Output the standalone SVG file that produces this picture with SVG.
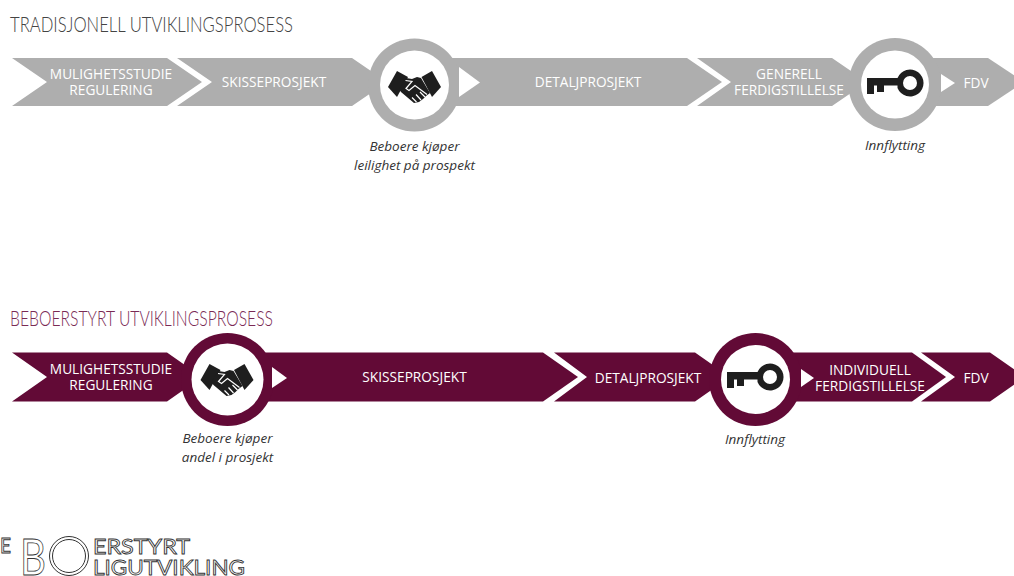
<svg xmlns="http://www.w3.org/2000/svg" width="1014" height="576" viewBox="0 0 1014 576">
<style>
.g{fill:#aeaeae}.p{fill:#620a36}.w{fill:#fff}
.lb{font-family:"Open Sans","Liberation Sans",sans-serif;font-size:13.7px;fill:#fff;text-anchor:middle}
.ca{font-family:"Open Sans","Liberation Sans",sans-serif;font-size:13.5px;font-style:italic;fill:#333;text-anchor:middle}
.ti{font-family:"Lato","Liberation Sans",sans-serif;font-weight:300;font-size:21px}
.lo{font-family:"Lato","Liberation Sans",sans-serif;fill:#fff;stroke:#333;stroke-width:.9}
</style>
<defs>
<g id="hands">
<path fill="#1e1e1e" d="M388 87L397 71L408 77L397 97Z"/>
<path fill="#1e1e1e" d="M441 87L432 71L421.500 77L432 97Z"/>
<path fill="#1e1e1e" d="M406 78L412 79L417 77L421 78L430 93L426 96L423 99L419 102L414 103L401 92L399 89Z"/>
<path fill="none" stroke="#fff" stroke-width="1.200" d="M405.500 80.500L412 81.500L406 88.500L409 90.500L415 85.500L427 94.500M421 100L416 94.500M416.500 102L412 97.500M425 97L420 92"/>
</g>
<g id="key">
<path fill="#1e1e1e" fill-rule="evenodd" d="M867 78H897.500A13.500 13.500 0 1 1 897.500 88V85.500H884V92H877V85.500H874V94H867ZM903 83A7 7 0 1 0 917 83A7 7 0 1 0 903 83Z"/>
</g>
</defs>
<g id="title-traditional"><text class="ti" x="10" y="32" fill="#444" textLength="283" lengthAdjust="spacingAndGlyphs">TRADISJONELL UTVIKLINGSPROSESS</text></g>
<g id="title-resident"><text class="ti" x="10" y="326" fill="#7a2a55" textLength="263" lengthAdjust="spacingAndGlyphs">BEBOERSTYRT UTVIKLINGSPROSESS</text></g>

<g id="connectors"></g>

<g id="t1"><polygon class="g" points="12,58 167,58 202,82 167,106 12,106 47,82"/><text class="lb" x="111" y="79">MULIGHETSSTUDIE</text><text class="lb" x="111" y="95">REGULERING</text></g>
<g id="t2"><polygon class="g" points="177,58 352,58 387,82 352,106 177,106 212,82"/><text class="lb" x="274" y="87">SKISSEPROSJEKT</text></g>
<g id="t3"><polygon class="g" points="420,58 687,58 722,82 687,106 420,106"/><text class="lb" x="588" y="87">DETALJPROSJEKT</text></g>
<g id="t4"><polygon class="g" points="697,58 832,58 867,82 832,106 697,106 731,82"/><text class="lb" x="789" y="79">GENERELL</text><text class="lb" x="789" y="95">FERDIGSTILLELSE</text></g>
<g id="t5"><polygon class="g" points="920,58 988,58 1024,82 988,106 920,106"/><text class="lb" x="976" y="88">FDV</text></g>
<g id="t-hand"><circle class="g" cx="414.500" cy="85" r="46.500"/><circle class="w" cx="414.500" cy="85" r="34.500"/><use href="#hands"/><polygon class="w" points="459,67 459,97 480,82.500"/><text class="ca" x="414.500" y="151">Beboere kjøper</text><text class="ca" x="414.500" y="170">leilighet på prospekt</text></g>
<g id="t-key"><circle class="g" cx="895" cy="84.500" r="46.500"/><circle class="w" cx="895" cy="84.500" r="34"/><use href="#key"/><polygon class="w" points="941,74 941,92 955,83"/><text class="ca" x="895" y="150">Innflytting</text></g>

<g id="b1"><polygon class="p" points="12,352.500 167,352.500 202,377 167,401.500 12,401.500 47,377"/><text class="lb" x="111" y="374">MULIGHETSSTUDIE</text><text class="lb" x="111" y="390">REGULERING</text></g>
<g id="b2"><polygon class="p" points="230,352.500 543,352.500 578,377 543,401.500 230,401.500"/><text class="lb" x="414.500" y="382">SKISSEPROSJEKT</text></g>
<g id="b3"><polygon class="p" points="554,352.500 695,352.500 730,377 695,401.500 554,401.500 587,377"/><text class="lb" x="648" y="383">DETALJPROSJEKT</text></g>
<g id="b4"><polygon class="p" points="760,352.500 912,352.500 946,377 912,401.500 760,401.500"/><text class="lb" x="870" y="375">INDIVIDUELL</text><text class="lb" x="870" y="391">FERDIGSTILLELSE</text></g>
<g id="b5"><polygon class="p" points="921,352.500 990,352.500 1025,377 990,401.500 921,401.500 955,377"/><text class="lb" x="976" y="383">FDV</text></g>
<g id="b-hand"><circle class="p" cx="227.500" cy="379.500" r="46.500"/><circle class="w" cx="227.500" cy="379.500" r="36"/><use href="#hands" x="-187.500" y="293"/><polygon class="w" points="272,367 272,388 287,378"/><text class="ca" x="227.500" y="443">Beboere kjøper</text><text class="ca" x="227.500" y="462">andel i prosjekt</text></g>
<g id="b-key"><circle class="p" cx="755.500" cy="379.500" r="46.500"/><circle class="w" cx="755.500" cy="379.500" r="34.500"/><use href="#key" x="-140" y="294"/><polygon class="w" points="801,369 801,387 814,378"/><text class="ca" x="755" y="444">Innflytting</text></g>

<g id="logo">
<text class="lo" x="0" y="553" font-size="21" textLength="11" lengthAdjust="spacingAndGlyphs">E</text>
<text class="lo" x="20" y="575" font-size="51" textLength="26" lengthAdjust="spacingAndGlyphs">B</text>
<circle cx="69" cy="556" r="19.500" fill="none" stroke="#333" stroke-width="1"/><circle cx="69" cy="556" r="16.500" fill="none" stroke="#333" stroke-width="1"/>
<text class="lo" x="93" y="554" font-size="22" textLength="97" lengthAdjust="spacingAndGlyphs">ERSTYRT</text>
<text class="lo" x="93" y="575" font-size="22" textLength="152" lengthAdjust="spacingAndGlyphs">LIGUTVIKLING</text>
</g>
</svg>
